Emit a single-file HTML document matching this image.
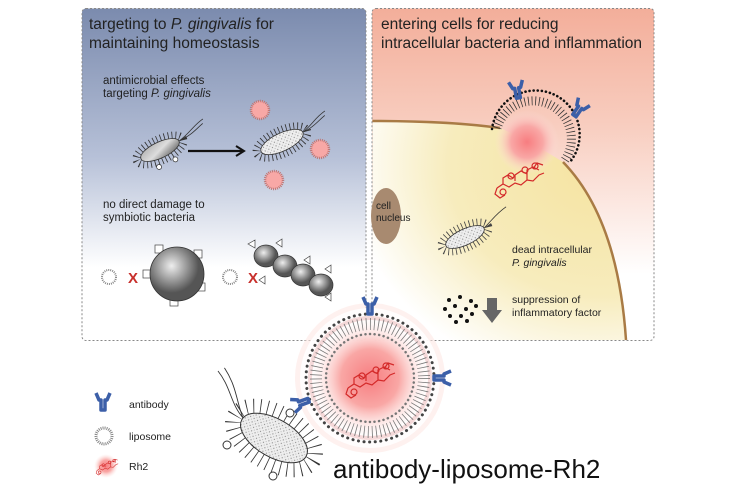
<!DOCTYPE html>
<html><head><meta charset="utf-8"><style>
html,body{margin:0;padding:0;background:#fff;}
svg{display:block;font-family:"Liberation Sans",Arial,sans-serif;}
</style></head><body>
<svg width="734" height="486" viewBox="0 0 734 486" xmlns="http://www.w3.org/2000/svg">
<defs>
<linearGradient id="gl" x1="0" y1="0" x2="0" y2="1">
<stop offset="0" stop-color="#7b8bae"/><stop offset="0.45" stop-color="#b7c1d8"/><stop offset="0.78" stop-color="#ffffff"/><stop offset="1" stop-color="#ffffff"/></linearGradient>
<linearGradient id="gr" x1="0" y1="0" x2="0" y2="1">
<stop offset="0" stop-color="#f3ae9a"/><stop offset="0.35" stop-color="#f8cdbf"/><stop offset="0.8" stop-color="#ffffff"/></linearGradient>
<radialGradient id="gy" cx="0.9" cy="0.2" r="1">
<stop offset="0" stop-color="#f5e3a0"/><stop offset="0.6" stop-color="#f7ecbd"/><stop offset="1" stop-color="#ffffff"/></radialGradient>
<radialGradient id="pink"><stop offset="0" stop-color="#f77d80"/><stop offset="0.5" stop-color="#f9a7a5"/><stop offset="1" stop-color="#fde3df" stop-opacity="0"/></radialGradient>
<radialGradient id="grey" cx="0.4" cy="0.35"><stop offset="0" stop-color="#eee"/><stop offset="1" stop-color="#555"/></radialGradient>
<linearGradient id="bact" x1="0" y1="0" x2="1" y2="1"><stop offset="0" stop-color="#aaa"/><stop offset="0.5" stop-color="#ddd"/><stop offset="1" stop-color="#555"/></linearGradient>
<pattern id="speck" width="4" height="4" patternUnits="userSpaceOnUse"><rect width="4" height="4" fill="#eee"/><circle cx="1" cy="1" r="0.6" fill="#888"/><circle cx="3" cy="3" r="0.5" fill="#aaa"/></pattern>
<g id="ab"><path d="M-7,-9 L-4,-2 L-2,-2 L-2,8 L2,8 L2,-2 L4,-2 L7,-9" fill="none" stroke="#3c5fa8" stroke-width="3.5" stroke-linejoin="round"/></g>
<g id="lip"><circle r="9" fill="#f8a8a6" stroke="#b77" stroke-width="2.5" stroke-dasharray="1 1"/></g>
<g id="rh"><g fill="none" stroke="#d42a2a" stroke-width="1.2">
<path d="M-20,10 l6,-4 l6,3 l6,-4 l6,2 l6,-5 l6,1 l6,-6 l5,-2 M-14,6 l0,-6 l5,-3 l5,3 M-2,3 l0,-6 l6,-4 l6,3 l0,6 M10,-2 l0,-6 l6,-3 l6,3 M-20,10 l-2,6 l5,4 l5,-3 M16,-9 l4,-6 l6,2"/>
<circle cx="-14" cy="14" r="3"/><circle cx="-6" cy="-2" r="3"/><circle cx="8" cy="-8" r="3"/><circle cx="18" cy="-12" r="3"/></g></g>
</defs>

<!-- left panel -->
<rect x="82" y="8.5" width="284" height="332" rx="4" fill="url(#gl)" stroke="#888" stroke-dasharray="2 2"/>
<text x="89" y="29" font-size="15.5" fill="#222">targeting to <tspan font-style="italic">P. gingivalis</tspan> for</text>
<text x="89" y="48" font-size="15.5" fill="#222">maintaining homeostasis</text>
<text x="103" y="84" font-size="11.5" fill="#222">antimicrobial effects</text>
<text x="103" y="97" font-size="11.5" fill="#222">targeting <tspan font-style="italic">P. gingivalis</tspan></text>
<g transform="translate(160,150) rotate(-25)">
<ellipse rx="25" ry="10" fill="none" stroke="#333" stroke-width="9" stroke-dasharray="0.8 3"/>
<ellipse rx="21" ry="8" fill="url(#bact)" stroke="#333" stroke-width="0.8"/>
<path d="M21,0 C35,-3 40,-8 52,-10 M21,0 C35,0 42,-4 50,-6" stroke="#333" fill="none" stroke-width="0.8"/>
<circle cx="10" cy="15" r="2.5" fill="#fff" stroke="#333" stroke-width="0.7"/><circle cx="-8" cy="15" r="2.5" fill="#fff" stroke="#333" stroke-width="0.7"/></g>
<path d="M188,151 L242,151" stroke="#111" stroke-width="2.3"/><path d="M236,146 L244,151 L236,156" fill="none" stroke="#111" stroke-width="2"/>
<g transform="translate(282,142) rotate(-25)">
<ellipse rx="27" ry="11" fill="none" stroke="#333" stroke-width="9" stroke-dasharray="0.8 3"/>
<ellipse rx="23" ry="9" fill="url(#speck)" stroke="#333" stroke-width="0.8"/>
<path d="M23,0 C35,-3 40,-8 52,-10 M23,0 C35,0 42,-4 50,-6" stroke="#333" fill="none" stroke-width="0.8"/></g>
<use href="#lip" x="260" y="110"/><use href="#lip" x="320" y="149"/><use href="#lip" x="274" y="180"/>
<text x="103" y="208" font-size="11.5" fill="#222">no direct damage to</text>
<text x="103" y="221" font-size="11.5" fill="#222">symbiotic bacteria</text>
<circle cx="109" cy="277" r="7" fill="#fff" stroke="#888" stroke-width="2" stroke-dasharray="1 1"/>
<text x="128" y="283" font-size="15" font-weight="bold" fill="#c8302c">X</text>
<rect x="143" y="270" width="8" height="8" fill="#fff" stroke="#444" stroke-width="0.7"/>
<rect x="155" y="245" width="8" height="8" fill="#fff" stroke="#444" stroke-width="0.7"/>
<rect x="194" y="250" width="8" height="8" fill="#fff" stroke="#444" stroke-width="0.7"/>
<rect x="197" y="283" width="8" height="8" fill="#fff" stroke="#444" stroke-width="0.7"/>
<rect x="170" y="298" width="8" height="8" fill="#fff" stroke="#444" stroke-width="0.7"/>
<circle cx="177" cy="274" r="27" fill="url(#grey)" stroke="#333" stroke-width="0.8"/>
<circle cx="230" cy="277" r="7" fill="#fff" stroke="#888" stroke-width="2" stroke-dasharray="1 1"/>
<text x="248" y="283" font-size="15" font-weight="bold" fill="#c8302c">X</text>
<ellipse cx="266" cy="256" rx="12" ry="11" fill="url(#grey)" stroke="#333" stroke-width="0.7"/>
<ellipse cx="285" cy="266" rx="12" ry="11" fill="url(#grey)" stroke="#333" stroke-width="0.7"/>
<ellipse cx="303" cy="275" rx="12" ry="11" fill="url(#grey)" stroke="#333" stroke-width="0.7"/>
<ellipse cx="321" cy="285" rx="12" ry="11" fill="url(#grey)" stroke="#333" stroke-width="0.7"/>
<path d="M255,240 l-7,4 l7,4z M282,239 l-6,4 l6,4z M310,256 l-6,4 l6,4z M331,265 l-6,4 l6,4z M331,293 l-6,4 l6,4z M265,276 l-6,4 l6,4z" fill="#fff" stroke="#444" stroke-width="0.7"/>

<!-- right panel -->
<rect x="372" y="8.5" width="282" height="332" rx="4" fill="url(#gr)" stroke="#888" stroke-dasharray="2 2"/>
<path d="M372.5,121 Q450,121 500,128 L527,140 L563,162 C595,195 620,250 626,340 L372.5,340 Z" fill="url(#gy)"/>
<path d="M372.5,121 Q450,121 500,128 M563,162 C595,195 620,250 626,340" fill="none" stroke="#a97b45" stroke-width="2.5"/>
<text x="381" y="29" font-size="15.5" fill="#222">entering cells for reducing</text>
<text x="381" y="48" font-size="15.5" fill="#222">intracellular bacteria and inflammation</text>
<circle cx="527" cy="142" r="32" fill="url(#pink)"/>
<path d="M497,128 A38,38 0 1 1 565,160" fill="none" stroke="#333" stroke-width="9" stroke-dasharray="0.8 2.8"/>
<path d="M492,129 A44,44 0 1 1 570,162" fill="none" stroke="#111" stroke-width="2.6" stroke-dasharray="0.1 4" stroke-linecap="round"/>
<use href="#ab" transform="translate(517,90) rotate(-10)"/>
<use href="#ab" transform="translate(579,109) rotate(35)"/>
<use href="#rh" x="517" y="178"/>
<ellipse cx="386" cy="216" rx="15" ry="28" fill="#a88a70"/>
<text x="376" y="209" font-size="10" fill="#222">cell</text>
<text x="376" y="221" font-size="10" fill="#222">nucleus</text>
<g transform="translate(465,237) rotate(-25)">
<ellipse rx="25" ry="10" fill="none" stroke="#444" stroke-width="9" stroke-dasharray="0.8 3"/>
<ellipse rx="21" ry="8" fill="url(#speck)" stroke="#333" stroke-width="0.8"/>
<path d="M21,0 C32,-4 38,-8 50,-10" stroke="#333" fill="none" stroke-width="0.8"/></g>
<text x="512" y="253" font-size="10.5" fill="#222">dead intracellular</text>
<text x="512" y="266" font-size="10.5" font-style="italic" fill="#222">P. gingivalis</text>
<g fill="#111"><circle cx="449" cy="300" r="2"/><circle cx="460" cy="297" r="2"/><circle cx="471" cy="301" r="2"/><circle cx="445" cy="309" r="2"/><circle cx="455" cy="306" r="2"/><circle cx="466" cy="309" r="2"/><circle cx="476" cy="306" r="2"/><circle cx="450" cy="316" r="2"/><circle cx="461" cy="316" r="2"/><circle cx="472" cy="314" r="2"/><circle cx="456" cy="322" r="2"/><circle cx="467" cy="321" r="2"/></g>
<path d="M487,298 L497,298 L497,310 L502,310 L492,323 L482,310 L487,310 Z" fill="#666"/>
<text x="512" y="303" font-size="10.5" fill="#222">suppression of</text>
<text x="512" y="316" font-size="10.5" fill="#222">inflammatory factor</text>

<!-- big liposome -->
<circle cx="370" cy="378" r="75" fill="#fde8e4" fill-opacity="0.6"/>
<circle cx="370" cy="378" r="70" fill="#fff" fill-opacity="0.85"/>
<circle cx="370" cy="378" r="58" fill="url(#pink)"/>
<circle cx="370" cy="378" r="60" fill="none" stroke="#d88" stroke-opacity="0.3" stroke-width="4" />
<circle cx="370" cy="378" r="54" fill="none" stroke="#777" stroke-width="12" stroke-dasharray="0.8 3.3"/>
<circle cx="370" cy="378" r="64" fill="none" stroke="#444" stroke-width="3" stroke-dasharray="0.1 5.5" stroke-linecap="round"/>
<circle cx="370" cy="378" r="44" fill="none" stroke="#777" stroke-width="2.5" stroke-dasharray="0.1 4.5" stroke-linecap="round"/>
<use href="#ab" transform="translate(370,306)"/>
<use href="#ab" transform="translate(442,378) rotate(90)"/>
<use href="#ab" transform="translate(301,403) rotate(-110)"/>
<use href="#rh" x="368" y="378"/>

<!-- big bacterium -->
<g transform="translate(274,438) rotate(30)">
<ellipse rx="44" ry="24" fill="none" stroke="#333" stroke-width="18" stroke-dasharray="0.8 6"/>
<ellipse rx="37" ry="19" fill="url(#speck)" stroke="#333" stroke-width="1"/>
<path d="M-37,-2 C-55,-8 -62,-22 -82,-30 M-37,-2 C-50,-12 -58,-26 -78,-36" fill="none" stroke="#333" stroke-width="0.9"/>
</g>
<circle cx="290" cy="413" r="4" fill="#fff" stroke="#333"/><circle cx="227" cy="445" r="4" fill="#fff" stroke="#333"/><circle cx="273" cy="476" r="4" fill="#fff" stroke="#333"/>

<!-- legend -->
<use href="#ab" transform="translate(103,402)"/>
<text x="129" y="408" font-size="10.5" fill="#222">antibody</text>
<circle cx="104" cy="436" r="8" fill="#fff" stroke="#888" stroke-width="3" stroke-dasharray="1 1"/>
<text x="129" y="440" font-size="10.5" fill="#222">liposome</text>
<circle cx="106" cy="466" r="12" fill="url(#pink)"/>
<g transform="translate(106,466) scale(0.45)"><use href="#rh"/></g>
<text x="129" y="470" font-size="10.5" fill="#222">Rh2</text>

<text x="333" y="478" font-size="26" fill="#111">antibody-liposome-Rh2</text>
</svg>
</body></html>
